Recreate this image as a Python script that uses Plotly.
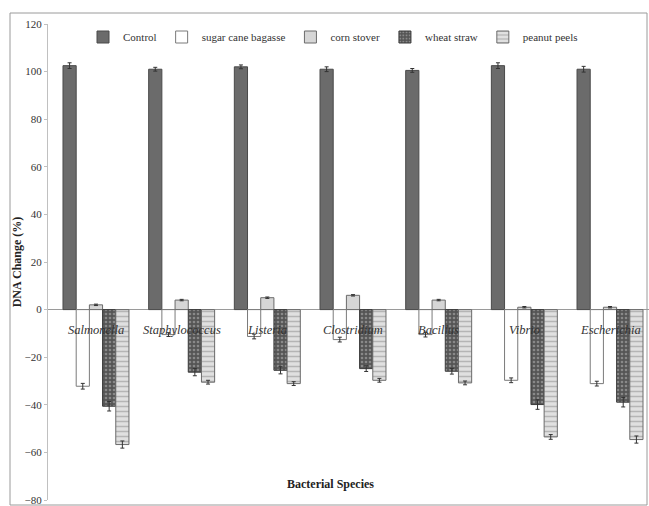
import plotly.graph_objects as go

categories = ["Salmonella", "Staphylococcus", "Listeria", "Clostridium", "Bacillus", "Vibrio", "Escherichia"]
control = [102.5, 101, 102, 101, 100.5, 102.5, 101]
control_err = [1.2, 0.8, 0.8, 1.0, 0.8, 1.2, 1.2]
sugar_cane = [-32.2, -10.5, -11.3, -12.6, -10.5, -29.7, -31.1]
sugar_err = [1.2, 0.8, 1.0, 1.0, 1.0, 1.0, 1.0]
corn_stover = [2, 4, 5, 6, 4, 1, 1]
corn_err = [0.3, 0.3, 0.3, 0.3, 0.3, 0.3, 0.3]
wheat_straw = [-40.6, -26.3, -25.5, -24.8, -25.9, -39.9, -38.9]
wheat_err = [2.0, 1.5, 1.5, 1.2, 1.2, 2.0, 2.0]
peanut_peels = [-56.7, -30.5, -31.1, -29.7, -30.8, -53.5, -54.6]
peanut_err = [1.5, 0.8, 0.8, 0.8, 0.8, 1.0, 1.5]

serif = "Liberation Serif, Times New Roman, serif"
x = list(range(len(categories)))

def err(vals):
    return dict(type="data", array=vals, color="#333333", thickness=1, width=2)

fig = go.Figure()
fig.add_trace(go.Bar(name="Control", x=x, y=control, error_y=err(control_err),
                     marker=dict(color="#6b6b6b", line=dict(color="#4a4a4a", width=1))))
fig.add_trace(go.Bar(name="sugar cane bagasse", x=x, y=sugar_cane, error_y=err(sugar_err),
                     marker=dict(color="white", line=dict(color="#7a7a7a", width=1))))
fig.add_trace(go.Bar(name="corn stover", x=x, y=corn_stover, error_y=err(corn_err),
                     marker=dict(color="#d6d6d6", line=dict(color="#6a6a6a", width=1))))
fig.add_trace(go.Bar(name="wheat straw", x=x, y=wheat_straw, error_y=err(wheat_err),
                     marker=dict(color="#555555", line=dict(color="#3a3a3a", width=1),
                                 pattern=dict(shape=".", fgcolor="#bdbdbd", bgcolor="#555555",
                                              size=4, solidity=0.35))))
fig.add_trace(go.Bar(name="peanut peels", x=x, y=peanut_peels, error_y=err(peanut_err),
                     marker=dict(color="#d0d0d0", line=dict(color="#6a6a6a", width=1),
                                 pattern=dict(shape="-", fgcolor="#8a8a8a", bgcolor="#e0e0e0",
                                              size=5, solidity=0.3))))

annotations = []
for i, c in enumerate(categories):
    annotations.append(dict(x=i, y=-8.5, xref="x", yref="y", text="<i>" + c + "</i>",
                            showarrow=False, font=dict(family=serif, size=12.5, color="#333333")))
annotations.append(dict(x=(330 - 48) / 601, y=(500 - 493) / 476, xref="paper", yref="paper",
                        text="<b>Bacterial Species</b>", showarrow=False,
                        font=dict(family=serif, size=12, color="#222222")))

fig.update_layout(
    width=649, height=506,
    margin=dict(l=48, r=0, t=24, b=6, autoexpand=False),
    paper_bgcolor="white", plot_bgcolor="white",
    barmode="group", bargap=0.23, bargroupgap=0,
    font=dict(family=serif, size=11, color="#333333"),
    showlegend=True,
    legend=dict(orientation="h", x=(333 - 48) / 601, xanchor="center", y=(500 - 37) / 476,
                yanchor="middle", font=dict(family=serif, size=11, color="#333333"),
                bgcolor="rgba(0,0,0,0)", itemwidth=30, tracegroupgap=0),
    annotations=annotations,
    shapes=[dict(type="rect", xref="paper", yref="paper",
                 x0=(10 - 48) / 601, x1=(647 - 48) / 601,
                 y0=(500 - 505) / 476, y1=(500 - 13) / 476,
                 line=dict(color="#9a9a9a", width=1), fillcolor="rgba(0,0,0,0)", layer="below")],
)
fig.update_xaxes(range=[-0.56, 6.455], showticklabels=False, showgrid=False, zeroline=False,
                 showline=False, ticks="", automargin=False)
fig.update_yaxes(range=[-80, 120], dtick=20, showgrid=False, zeroline=True, zerolinecolor="#9a9a9a",
                 zerolinewidth=1, showline=True, linecolor="#c0c0c0", linewidth=1,
                 ticks="outside", ticklen=3, tickcolor="#c0c0c0", automargin=False,
                 tickfont=dict(family=serif, size=11, color="#333333"),
                 title=dict(text="<b>DNA Change (%)</b>", font=dict(family=serif, size=12, color="#222222"),
                            standoff=0))

fig.write_html("out.html", config={"displayModeBar": False},
               post_script="document.body.style.margin='0';document.body.style.overflow='hidden';")
